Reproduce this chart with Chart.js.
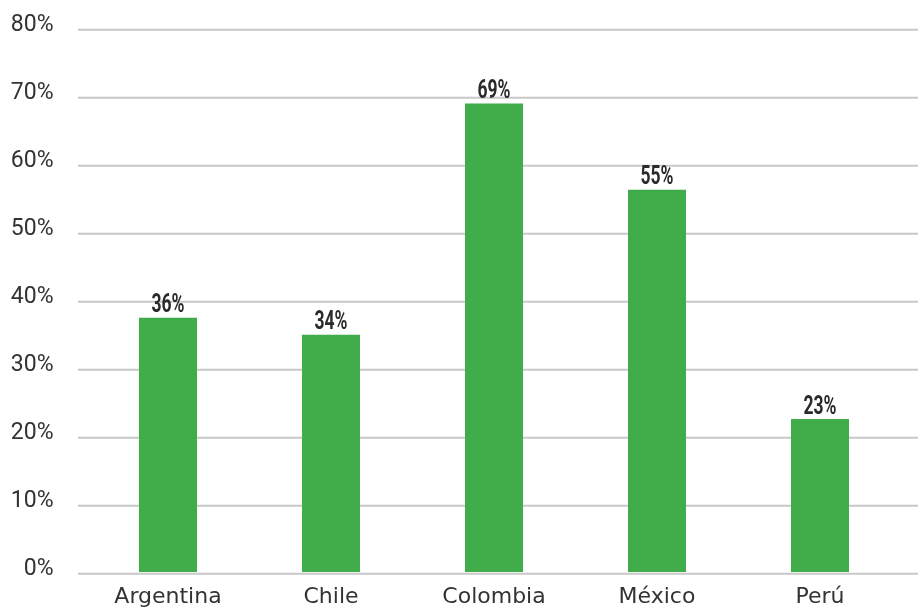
<!DOCTYPE html>
<html>
<head>
<meta charset="utf-8">
<script src="https://cdn.jsdelivr.net/npm/chart.js@4"></script>
<style>
  html, body { margin: 0; padding: 0; background: #fff; overflow: hidden; }
  #wrap { position: relative; width: 918px; height: 608px; }
</style>
</head>
<body>
<div id="wrap"><canvas id="chart"></canvas></div>
<script>
// Data
const countries = ["Argentina", "Chile", "Colombia", "México", "Perú"];
const values = [37.4, 34.9, 68.9, 56.2, 22.5];
const valueLabels = ["36%", "34%", "69%", "55%", "23%"];
const yTicks = [0, 10, 20, 30, 40, 50, 60, 70, 80];

const barColor = "#41ad4a";
const gridColor = "#c8c8c8";

// Gridlines run wider than the bar area
const gridPlugin = {
    id: "wideGrid",
    beforeDatasetsDraw(chart) {
        const ctx = chart.ctx;
        const y = chart.scales.y;
        ctx.save();
        ctx.strokeStyle = gridColor;
        ctx.lineWidth = 2;
        y.ticks.forEach(t => {
            const py = y.getPixelForValue(t.value) + 1.7;
            ctx.beginPath();
            ctx.moveTo(78, py);
            ctx.lineTo(chart.width, py);
            ctx.stroke();
        });
        ctx.restore();
    }
};

// Value labels above bars, condensed bold
const labelPlugin = {
    id: "barLabels",
    afterDatasetsDraw(chart) {
        const ctx = chart.ctx;
        const meta = chart.getDatasetMeta(0);
        ctx.save();
        ctx.fillStyle = "#2b2b2b";
        ctx.font = "bold 25px Roboto";
        ctx.textAlign = "center";
        ctx.textBaseline = "alphabetic";
        meta.data.forEach((bar, i) => {
            ctx.save();
            ctx.translate(bar.x, bar.y - 5.5);
            ctx.scale(0.7, 1);
            ctx.fillText(valueLabels[i], 0, 0);
            ctx.restore();
        });
        ctx.restore();
    }
};

new Chart(document.getElementById("chart"), {
    type: "bar",
    data: {
        labels: countries,
        datasets: [{
            data: values,
            backgroundColor: barColor,
            categoryPercentage: 1,
            barPercentage: 0.356
        }]
    },
    options: {
        responsive: true,
        maintainAspectRatio: false,
        animation: false,
        layout: { padding: { top: 28, right: 16.5, left: 0, bottom: 0 } },
        plugins: {
            legend: { display: false },
            tooltip: { enabled: false }
        },
        scales: {
            x: {
                grid: { display: false },
                border: { display: false },
                afterFit: s => {
                    s.height = 36;
                    s.paddingLeft = 0;
                    s.paddingRight = 0;
                },
                ticks: {
                    color: "#333",
                    font: { family: "DejaVu Sans", size: 22 },
                    padding: 4,
                    maxRotation: 0
                }
            },
            y: {
                min: 0,
                max: 80,
                afterBuildTicks: s => { s.ticks = yTicks.map(v => ({ value: v })); },
                afterFit: s => {
                    s.width = 86.5;
                    s.paddingTop = 0;
                    s.paddingBottom = 0;
                },
                grid: { display: false },
                border: { display: false },
                ticks: {
                    color: "#333",
                    font: { family: "Roboto", size: 23 },
                    padding: 25,
                    labelOffset: -3,
                    callback: v => v + "%"
                }
            }
        }
    },
    plugins: [gridPlugin, labelPlugin]
});
</script>
</body>
</html>
